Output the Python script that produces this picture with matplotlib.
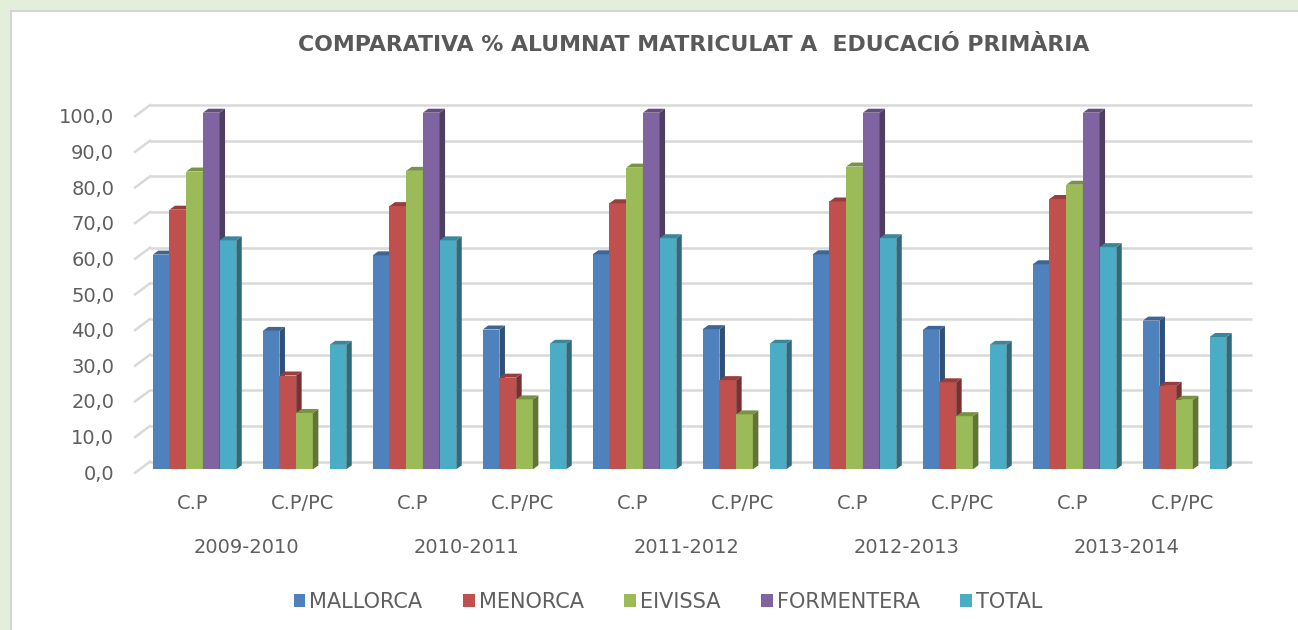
import matplotlib.pyplot as plt
import numpy as np
from matplotlib.patches import Polygon, Rectangle, Patch
from matplotlib.transforms import ScaledTranslation

years = ["2009-2010", "2010-2011", "2011-2012", "2012-2013", "2013-2014"]
types = ["C.P", "C.P/PC"]
series_names = ["MALLORCA", "MENORCA", "EIVISSA", "FORMENTERA", "TOTAL"]

mallorca = [60.2, 38.8, 60.0, 39.2, 60.3, 39.3, 60.3, 39.1, 57.5, 41.7]
menorca = [72.8, 26.3, 73.8, 25.7, 74.6, 25.0, 75.1, 24.4, 75.8, 23.4]
eivissa = [83.5, 15.8, 83.7, 19.6, 84.6, 15.4, 84.9, 14.9, 79.8, 19.5]
formentera = [100.0, 0, 100.0, 0, 100.0, 0, 100.0, 0, 100.0, 0]
total = [64.2, 34.9, 64.2, 35.2, 64.8, 35.2, 64.8, 34.9, 62.3, 37.1]

colors = ["#4f81bd", "#c0504d", "#9bbb59", "#8064a2", "#4bacc6"]
text_col = "#5f5f5f"

W, H = 1298, 630
fig = plt.figure(figsize=(W / 100, H / 100), dpi=100)
fig.patch.set_facecolor("#e3efda")
# white chart area
fig.add_artist(Rectangle((11 / W, -0.01), 1.0, (H - 11) / H + 0.01, transform=fig.transFigure,
                         facecolor="white", edgecolor="#d4d4d4", lw=1.5, zorder=-5))

left_px, right_px, base_px, top_px = 135, 1247, 469.3, 112.7
ax = fig.add_axes([left_px / W, (H - base_px) / H, (right_px - left_px) / W, (base_px - top_px) / H])
ax.set_xlim(-0.541, 9.568)
ax.set_ylim(0, 100)
for s in ax.spines.values():
    s.set_visible(False)
ax.set_facecolor("none")

# data units per pixel
ux = (9.568 + 0.541) / (right_px - left_px)
uy = 100 / (base_px - top_px)

# back wall gridlines + left wall stubs
wall_dx, wall_dy = 15, 7.6
for v in range(0, 101, 10):
    yb = v + wall_dy * uy
    ax.plot([-0.541 + wall_dx * ux, 9.568 + 5 * ux], [yb, yb], color="#d9d9d9", lw=1.8,
            clip_on=False, zorder=1, solid_capstyle="butt")
    ax.plot([-0.541, -0.541 + wall_dx * ux], [v - 3.5 * uy, yb], color="#d9d9d9", lw=1.8,
            clip_on=False, zorder=1)

ax.set_yticks(range(0, 101, 10))
ax.set_yticklabels([f"{v:.1f}".replace(".", ",") for v in range(0, 101, 10)],
                   fontsize=14, color=text_col)
ax.tick_params(axis="y", length=0, pad=15)
for lab in ax.get_yticklabels():
    lab.set_transform(lab.get_transform() + ScaledTranslation(0, -3 / 100, fig.dpi_scale_trans))
ax.set_xticks([])

# 3D-looking bars
x = np.arange(len(mallorca))
bw = 16.7 * ux
dx, dy = 5.5 * ux, 4 * uy


def shade(c, f):
    r, g, b = [int(c[i:i + 2], 16) / 255 for i in (1, 3, 5)]
    return (r * f, g * f, b * f)


data = [mallorca, menorca, eivissa, formentera, total]
for k, vals in enumerate(data):
    pos = x + (k - 2) * bw
    ax.bar(pos, vals, width=bw, color=colors[k], zorder=3 + k, clip_on=False)
    for p, v in zip(pos, vals):
        if v <= 0:
            continue
        xl, xr = p - bw / 2, p + bw / 2
        side = Polygon([(xr, 0), (xr, v), (xr + dx, v + dy), (xr + dx, dy)],
                       facecolor=shade(colors[k], 0.62), edgecolor="none", zorder=3 + k, clip_on=False)
        top = Polygon([(xl, v), (xr, v), (xr + dx, v + dy), (xl + dx, v + dy)],
                      facecolor=shade(colors[k], 0.78), edgecolor="none", zorder=3 + k, clip_on=False)
        ax.add_patch(side)
        ax.add_patch(top)

# category labels
xt = ax.get_xaxis_transform()
for i in range(len(x)):
    ax.text(x[i] - 0.02, -34 / (base_px - top_px), types[i % 2], transform=xt, ha="center", va="center",
            fontsize=14, color=text_col)
for j, yr in enumerate(years):
    ax.text(2 * j + 0.47, -78 / (base_px - top_px), yr, transform=xt, ha="center", va="center",
            fontsize=14, color=text_col)

fig.text(693.5 / W, 1 - 45 / H, "COMPARATIVA % ALUMNAT MATRICULAT A  EDUCACIÓ PRIMÀRIA",
         ha="center", va="center", fontsize=15.8, fontweight="bold", color="#595959")

handles = [Patch(facecolor=c, label=n) for c, n in zip(colors, series_names)]
fig.legend(handles=handles, loc="center", bbox_to_anchor=(668 / W, 1 - 601.7 / H), ncol=5,
           frameon=False, fontsize=15, labelcolor=text_col, handlelength=0.55, handleheight=0.55,
           handletextpad=0.2, columnspacing=1.95)

plt.savefig("out.png", dpi=100, facecolor=fig.get_facecolor())
